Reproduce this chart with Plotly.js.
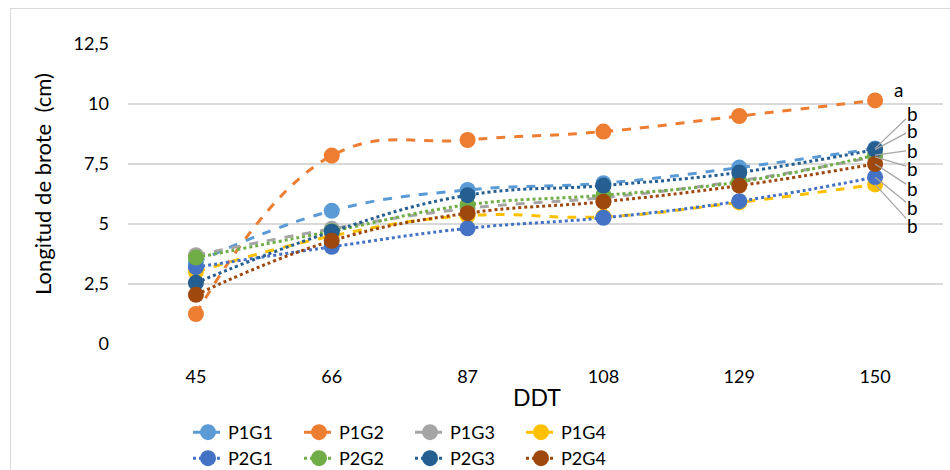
<!DOCTYPE html>
<html><head><meta charset="utf-8">
<script src="https://cdn.plot.ly/plotly-3.0.1.min.js"></script>
<style>body{margin:0;background:#fff}#frame{position:absolute;left:10px;top:8px;width:960px;height:480px;border:1px solid #d9d9d9;pointer-events:none}#chart{width:950px;height:470px}</style>
</head><body>
<div id="chart"></div><div id="frame"></div>
<script>
const categories = ['45','66','87','108','129','150'];
const P1G1 = [3.4, 5.55, 6.42, 6.7, 7.35, 8.15];
const P1G2 = [1.25, 7.85, 8.5, 8.85, 9.5, 10.15];
const P1G3 = [3.7, 4.8, 5.65, 6.1, 6.8, 7.8];
const P1G4 = [3.0, 4.5, 5.35, 5.3, 5.9, 6.65];
const P2G1 = [3.2, 4.05, 4.82, 5.26, 5.95, 6.95];
const P2G2 = [3.6, 4.7, 5.8, 6.2, 6.75, 7.87];
const P2G3 = [2.55, 4.68, 6.2, 6.6, 7.15, 8.1];
const P2G4 = [2.05, 4.3, 5.45, 5.93, 6.6, 7.5];
const seriesNames = ['P1G1','P1G2','P1G3','P1G4','P2G1','P2G2','P2G3','P2G4'];
const seriesValues = [P1G1,P1G2,P1G3,P1G4,P2G1,P2G2,P2G3,P2G4];
const xTitle = 'DDT';
const yTitle = 'Longitud de brote\u00a0\u00a0(cm)';
const letterA = {series:'P1G2', text:'a'};
const letterB = {series:['P1G1','P2G3','P2G2','P1G3','P2G4','P2G1','P1G4'], text:['b','b','b','b','b','b','b']};

const colors = ['#5B9BD5','#ED7D31','#A5A5A5','#FFC000','#4472C4','#70AD47','#255E91','#9E480E'];
const FONT = 'Lato, "Liberation Sans", sans-serif';

const traces = seriesNames.map((n,i)=>({
  type:'scatter', mode:'lines+markers', name:n, x:categories, y:seriesValues[i],
  legend: i<4 ? 'legend' : 'legend2',
  line:{color:colors[i], width:3, dash: i<4 ? 'dash':'dot', shape:'spline', smoothing:1.2},
  marker:{color:colors[i], size:16}
}));

const last = categories.length-1;
const annotations = [];
annotations.push({xref:'paper', yref:'paper', x:(537-128)/815, y:(344-397)/300, text:xTitle, showarrow:false,
  xanchor:'center', yanchor:'middle', font:{family:FONT,size:23,color:'#000'}});
annotations.push({xref:'paper', yref:'paper', x:(42-128)/815, y:(344-184)/300, text:yTitle, showarrow:false, textangle:-90,
  xanchor:'center', yanchor:'middle', font:{family:FONT,size:22,color:'#000'}});
annotations.push({x:last, y:seriesValues[seriesNames.indexOf(letterA.series)][last], text:letterA.text,
  showarrow:false, xshift:23, yshift:11, font:{family:FONT,size:19,color:'#000'}});
const textYs = [113,130,150,168,188,207,225]; // pixel rows of labels
letterB.series.forEach((s,k)=>{
  const v = seriesValues[seriesNames.indexOf(s)][last];
  const py = 344 - v*24;
  annotations.push({x:last, y:v, text:letterB.text[k], showarrow:true, arrowhead:0, arrowwidth:1.3, borderpad:0,
    height:16, valign:'middle',
    arrowcolor:'#a6a6a6', ax:37, ay:textYs[k]-py, standoff:0, font:{family:FONT,size:19,color:'#000'}});
});

const layout = {
  width:950, height:470, separators:',.',
  margin:{l:128, r:7, t:44, b:126},
  paper_bgcolor:'#fff', plot_bgcolor:'#fff',
  font:{family:FONT, size:18, color:'#000'},
  showlegend:true,
  xaxis:{type:'category', range:[-0.5, categories.length-0.5], autorange:false, showgrid:false, zeroline:false, showline:false, ticks:'',
    tickfont:{family:FONT,size:18,color:'#000'}, ticklabelstandoff:20},
  yaxis:{range:[0,12.5], autorange:false, dtick:2.5, tick0:0, gridcolor:'#d9d9d9', gridwidth:1.5, zeroline:false, showline:false,
    tickfont:{family:FONT,size:18,color:'#000'}, ticklabelstandoff:18},
  legend:{orientation:'h', xref:'container', yref:'container', x:188/950, y:1-414/470, yanchor:'top', xanchor:'left',
    entrywidth:66, entrywidthmode:'pixels', font:{family:FONT,size:18,color:'#000'}, bgcolor:'rgba(0,0,0,0)'},
  legend2:{orientation:'h', xref:'container', yref:'container', x:188/950, y:1-440/470, yanchor:'top', xanchor:'left',
    entrywidth:66, entrywidthmode:'pixels', font:{family:FONT,size:18,color:'#000'}, bgcolor:'rgba(0,0,0,0)'},
  annotations:annotations
};
Plotly.newPlot('chart', traces, layout, {displayModeBar:false, staticPlot:true});
</script>
</body></html>
